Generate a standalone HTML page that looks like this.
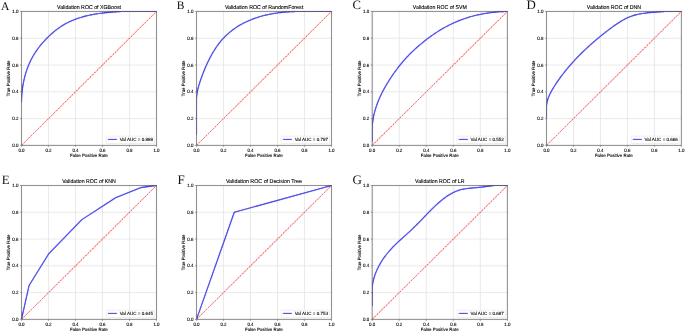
<!DOCTYPE html>
<html><head><meta charset="utf-8"><title>ROC curves</title>
<style>
html,body{margin:0;padding:0;background:#fff;}
body{width:685px;height:332px;overflow:hidden;font-family:"Liberation Sans",sans-serif;}
svg{display:block;will-change:transform;text-rendering:geometricPrecision;}
</style></head><body>
<svg xmlns="http://www.w3.org/2000/svg" width="685" height="332" viewBox="0 0 685 332" font-family="Liberation Sans, sans-serif"><defs><filter id="bl" x="0" y="0" width="685" height="332" filterUnits="userSpaceOnUse"><feConvolveMatrix order="3" kernelMatrix="0.00276 0.04704 0.00276 0.04704 0.80077 0.04704 0.00276 0.04704 0.00276" edgeMode="duplicate" preserveAlpha="true"/></filter><clipPath id="cA"><rect x="21.5" y="10.45" width="136" height="134.95"/></clipPath><clipPath id="cB"><rect x="196.5" y="10.45" width="136" height="134.95"/></clipPath><clipPath id="cC"><rect x="372.2" y="10.45" width="136.2" height="134.95"/></clipPath><clipPath id="cD"><rect x="546.5" y="10.45" width="135.9" height="134.95"/></clipPath><clipPath id="cE"><rect x="21.5" y="184.5" width="136" height="134.9"/></clipPath><clipPath id="cF"><rect x="196.5" y="184.5" width="136" height="134.9"/></clipPath><clipPath id="cG"><rect x="372.2" y="184.5" width="136.2" height="134.9"/></clipPath></defs>
<g filter="url(#bl)"><rect width="685" height="332" fill="#fff"/><g stroke="#e2e2e2" stroke-width="0.8"><line x1="48.5" y1="11.45" x2="48.5" y2="145.4"/><line x1="21.5" y1="118.61" x2="156.5" y2="118.61"/><line x1="75.5" y1="11.45" x2="75.5" y2="145.4"/><line x1="21.5" y1="91.82" x2="156.5" y2="91.82"/><line x1="102.5" y1="11.45" x2="102.5" y2="145.4"/><line x1="21.5" y1="65.03" x2="156.5" y2="65.03"/><line x1="129.5" y1="11.45" x2="129.5" y2="145.4"/><line x1="21.5" y1="38.24" x2="156.5" y2="38.24"/></g>
<g clip-path="url(#cA)">
<line x1="21.5" y1="145.4" x2="156.5" y2="11.45" stroke="#f00000" stroke-width="0.8" stroke-opacity="0.3"/>
<line x1="21.5" y1="145.4" x2="156.5" y2="11.45" stroke="#f00000" stroke-width="1.0" stroke-dasharray="1.6 1.605" stroke-dashoffset="2.93"/>
<polyline points="21.5,102.54 21.5,102.2 21.5,102.2 21.52,101.27 21.55,100.34 21.58,99.4 21.62,98.47 21.67,97.53 21.72,96.6 21.78,95.66 21.85,94.72 21.92,93.78 22.01,92.84 22.1,91.9 22.2,90.95 22.31,90.01 22.42,89.07 22.55,88.13 22.68,87.19 22.82,86.24 22.97,85.3 23.13,84.36 23.29,83.42 23.47,82.48 23.66,81.54 23.85,80.61 24.05,79.67 24.27,78.73 24.49,77.8 24.72,76.87 24.97,75.94 25.22,75.01 25.48,74.09 25.75,73.16 26.04,72.24 26.33,71.33 26.63,70.41 26.95,69.5 27.27,68.59 27.61,67.69 27.95,66.79 28.31,65.89 28.67,65 29.05,64.11 29.44,63.22 29.84,62.34 30.25,61.47 30.67,60.6 31.1,59.74 31.54,58.88 32,58.03 32.46,57.18 32.94,56.34 33.43,55.5 33.92,54.67 34.43,53.85 34.94,53.03 35.47,52.22 36.01,51.42 36.55,50.62 37.1,49.82 37.67,49.04 38.24,48.26 38.82,47.48 39.41,46.71 40.01,45.95 40.62,45.2 41.23,44.45 41.85,43.71 42.48,42.97 43.12,42.24 43.77,41.52 44.42,40.8 45.08,40.09 45.75,39.39 46.42,38.69 47.1,38 47.79,37.32 48.48,36.64 49.18,35.97 49.89,35.3 50.6,34.65 51.32,34 52.05,33.35 52.78,32.72 53.52,32.09 54.27,31.47 55.02,30.86 55.78,30.26 56.55,29.66 57.32,29.08 58.1,28.5 58.89,27.94 59.69,27.38 60.49,26.84 61.3,26.31 62.12,25.78 62.95,25.27 63.78,24.77 64.62,24.29 65.47,23.81 66.33,23.35 67.19,22.89 68.05,22.45 68.93,22.02 69.81,21.61 70.69,21.2 71.58,20.8 72.47,20.42 73.37,20.05 74.28,19.68 75.18,19.33 76.09,18.99 77.01,18.66 77.93,18.34 78.85,18.03 79.77,17.73 80.7,17.44 81.63,17.16 82.56,16.89 83.5,16.62 84.43,16.37 85.37,16.13 86.31,15.89 87.25,15.67 88.19,15.45 89.13,15.24 90.08,15.04 91.02,14.85 91.96,14.66 92.91,14.49 93.85,14.31 94.79,14.15 95.74,14 96.68,13.85 97.62,13.7 98.57,13.57 99.51,13.44 100.45,13.31 101.39,13.19 102.32,13.08 103.26,12.97 104.2,12.87 105.13,12.77 106.06,12.67 106.99,12.58 107.92,12.49 108.85,12.41 109.77,12.33 110.69,12.25 111.61,12.17 112.53,12.1 113.45,12.03 114.36,11.96 115.27,11.9 116.18,11.83 117.09,11.77 118,11.71 118.9,11.65 119.8,11.6 120.71,11.54 121.6,11.49 122.5,11.45 123.4,11.45 124.29,11.45 125.18,11.45 126.07,11.45 126.96,11.45 127.85,11.45 128.73,11.45 129.62,11.45 130.5,11.45 131.38,11.45 132.26,11.45 133.14,11.45 134.02,11.45 134.9,11.45 135.77,11.45 136.65,11.45 137.52,11.45 138.39,11.45 139.27,11.45 140.14,11.45 141,11.45 141.87,11.45 142.74,11.45 143.61,11.45 144.47,11.45 145.34,11.45 146.2,11.45 147.06,11.45 147.92,11.45 148.79,11.45 149.65,11.45 150.5,11.45 151.36,11.45 152.22,11.45 153.08,11.45 153.93,11.45 154.79,11.45 155.65,11.45 156.5,11.45" fill="none" stroke="#0000e0" stroke-width="1.1" stroke-linejoin="round"/>
</g>
<rect x="21.5" y="11.45" width="135" height="133.95" fill="none" stroke="#000" stroke-opacity="0.52" stroke-width="1.0"/>
<g stroke="#7a7a7a" stroke-width="0.9"><line x1="21.5" y1="145.4" x2="21.5" y2="146.8"/><line x1="20.1" y1="145.4" x2="21.5" y2="145.4"/><line x1="48.5" y1="145.4" x2="48.5" y2="146.8"/><line x1="20.1" y1="118.61" x2="21.5" y2="118.61"/><line x1="75.5" y1="145.4" x2="75.5" y2="146.8"/><line x1="20.1" y1="91.82" x2="21.5" y2="91.82"/><line x1="102.5" y1="145.4" x2="102.5" y2="146.8"/><line x1="20.1" y1="65.03" x2="21.5" y2="65.03"/><line x1="129.5" y1="145.4" x2="129.5" y2="146.8"/><line x1="20.1" y1="38.24" x2="21.5" y2="38.24"/><line x1="156.5" y1="145.4" x2="156.5" y2="146.8"/><line x1="20.1" y1="11.45" x2="21.5" y2="11.45"/></g>
<rect x="106.3" y="136.2" width="48.2" height="7.3" rx="0.6" fill="#fff" fill-opacity="0.85" stroke="#dcdcdc" stroke-width="0.5"/>
<line x1="107.9" y1="139.45" x2="116.9" y2="139.45" stroke="#0000e0" stroke-width="1.1"/>
<g stroke="#e2e2e2" stroke-width="0.8"><line x1="223.5" y1="11.45" x2="223.5" y2="145.4"/><line x1="196.5" y1="118.61" x2="331.5" y2="118.61"/><line x1="250.5" y1="11.45" x2="250.5" y2="145.4"/><line x1="196.5" y1="91.82" x2="331.5" y2="91.82"/><line x1="277.5" y1="11.45" x2="277.5" y2="145.4"/><line x1="196.5" y1="65.03" x2="331.5" y2="65.03"/><line x1="304.5" y1="11.45" x2="304.5" y2="145.4"/><line x1="196.5" y1="38.24" x2="331.5" y2="38.24"/></g>
<g clip-path="url(#cB)">
<line x1="196.5" y1="145.4" x2="331.5" y2="11.45" stroke="#f00000" stroke-width="0.8" stroke-opacity="0.3"/>
<line x1="196.5" y1="145.4" x2="331.5" y2="11.45" stroke="#f00000" stroke-width="1.0" stroke-dasharray="1.6 1.605" stroke-dashoffset="2.93"/>
<polyline points="196.5,134.68 196.5,100.66 196.5,100.66 196.5,99.72 196.51,98.79 196.55,97.86 196.61,96.93 196.69,96.01 196.79,95.09 196.91,94.18 197.04,93.27 197.2,92.36 197.37,91.46 197.55,90.56 197.75,89.66 197.96,88.77 198.18,87.88 198.41,86.99 198.66,86.11 198.91,85.22 199.18,84.35 199.45,83.47 199.73,82.59 200.02,81.72 200.31,80.85 200.61,79.97 200.91,79.1 201.21,78.23 201.52,77.36 201.84,76.49 202.16,75.62 202.49,74.75 202.81,73.89 203.15,73.02 203.49,72.15 203.83,71.29 204.18,70.42 204.54,69.56 204.9,68.69 205.27,67.83 205.64,66.97 206.01,66.11 206.4,65.26 206.78,64.4 207.18,63.55 207.58,62.7 207.98,61.84 208.4,61 208.81,60.15 209.24,59.3 209.67,58.46 210.1,57.62 210.55,56.78 210.99,55.95 211.45,55.11 211.91,54.29 212.38,53.46 212.86,52.64 213.34,51.82 213.84,51 214.34,50.19 214.84,49.38 215.36,48.58 215.88,47.78 216.41,46.99 216.95,46.2 217.5,45.42 218.07,44.65 218.64,43.88 219.22,43.13 219.81,42.38 220.41,41.63 221.03,40.9 221.65,40.18 222.28,39.46 222.92,38.75 223.57,38.06 224.23,37.37 224.91,36.69 225.58,36.01 226.27,35.35 226.97,34.7 227.68,34.05 228.39,33.42 229.11,32.79 229.85,32.18 230.59,31.57 231.33,30.98 232.09,30.39 232.85,29.81 233.62,29.25 234.4,28.69 235.19,28.14 235.98,27.61 236.78,27.08 237.58,26.56 238.4,26.06 239.22,25.56 240.04,25.08 240.87,24.6 241.71,24.13 242.55,23.68 243.4,23.23 244.25,22.8 245.11,22.37 245.97,21.95 246.83,21.54 247.71,21.15 248.58,20.76 249.46,20.38 250.34,20.01 251.23,19.65 252.12,19.3 253.01,18.96 253.9,18.63 254.8,18.31 255.7,18 256.61,17.69 257.51,17.4 258.42,17.11 259.33,16.83 260.25,16.56 261.16,16.3 262.08,16.05 262.99,15.81 263.91,15.57 264.83,15.34 265.75,15.12 266.67,14.91 267.6,14.71 268.52,14.51 269.44,14.32 270.37,14.14 271.29,13.96 272.22,13.8 273.14,13.64 274.07,13.48 274.99,13.34 275.91,13.2 276.84,13.07 277.76,12.94 278.68,12.82 279.61,12.7 280.53,12.6 281.45,12.49 282.37,12.4 283.29,12.31 284.21,12.22 285.12,12.14 286.04,12.06 286.95,11.99 287.86,11.93 288.78,11.87 289.69,11.81 290.59,11.76 291.5,11.71 292.41,11.67 293.31,11.63 294.21,11.6 295.11,11.56 296.01,11.53 296.91,11.51 297.8,11.49 298.7,11.47 299.59,11.45 300.48,11.45 301.37,11.45 302.25,11.45 303.14,11.45 304.02,11.45 304.9,11.45 305.78,11.45 306.66,11.45 307.53,11.45 308.41,11.45 309.28,11.45 310.15,11.45 311.02,11.45 311.88,11.45 312.75,11.45 313.61,11.46 314.47,11.47 315.33,11.48 316.19,11.48 317.05,11.49 317.91,11.5 318.76,11.51 319.62,11.51 320.47,11.52 321.32,11.52 322.17,11.53 323.02,11.53 323.87,11.53 324.72,11.53 325.57,11.53 326.42,11.52 327.27,11.52 328.11,11.51 328.96,11.5 329.81,11.48 330.65,11.47 331.5,11.45" fill="none" stroke="#0000e0" stroke-width="1.1" stroke-linejoin="round"/>
</g>
<rect x="196.5" y="11.45" width="135" height="133.95" fill="none" stroke="#000" stroke-opacity="0.52" stroke-width="1.0"/>
<g stroke="#7a7a7a" stroke-width="0.9"><line x1="196.5" y1="145.4" x2="196.5" y2="146.8"/><line x1="195.1" y1="145.4" x2="196.5" y2="145.4"/><line x1="223.5" y1="145.4" x2="223.5" y2="146.8"/><line x1="195.1" y1="118.61" x2="196.5" y2="118.61"/><line x1="250.5" y1="145.4" x2="250.5" y2="146.8"/><line x1="195.1" y1="91.82" x2="196.5" y2="91.82"/><line x1="277.5" y1="145.4" x2="277.5" y2="146.8"/><line x1="195.1" y1="65.03" x2="196.5" y2="65.03"/><line x1="304.5" y1="145.4" x2="304.5" y2="146.8"/><line x1="195.1" y1="38.24" x2="196.5" y2="38.24"/><line x1="331.5" y1="145.4" x2="331.5" y2="146.8"/><line x1="195.1" y1="11.45" x2="196.5" y2="11.45"/></g>
<rect x="281.3" y="136.2" width="48.2" height="7.3" rx="0.6" fill="#fff" fill-opacity="0.85" stroke="#dcdcdc" stroke-width="0.5"/>
<line x1="282.9" y1="139.45" x2="291.9" y2="139.45" stroke="#0000e0" stroke-width="1.1"/>
<g stroke="#e2e2e2" stroke-width="0.8"><line x1="399.24" y1="11.45" x2="399.24" y2="145.4"/><line x1="372.2" y1="118.61" x2="507.4" y2="118.61"/><line x1="426.28" y1="11.45" x2="426.28" y2="145.4"/><line x1="372.2" y1="91.82" x2="507.4" y2="91.82"/><line x1="453.32" y1="11.45" x2="453.32" y2="145.4"/><line x1="372.2" y1="65.03" x2="507.4" y2="65.03"/><line x1="480.36" y1="11.45" x2="480.36" y2="145.4"/><line x1="372.2" y1="38.24" x2="507.4" y2="38.24"/></g>
<g clip-path="url(#cC)">
<line x1="372.2" y1="145.4" x2="507.4" y2="11.45" stroke="#f00000" stroke-width="0.8" stroke-opacity="0.3"/>
<line x1="372.2" y1="145.4" x2="507.4" y2="11.45" stroke="#f00000" stroke-width="1.0" stroke-dasharray="1.6 1.605" stroke-dashoffset="2.93"/>
<polyline points="372.2,141.38 372.2,130 372.2,130 372.21,129 372.23,128.01 372.27,127.02 372.33,126.03 372.4,125.04 372.48,124.05 372.58,123.06 372.69,122.07 372.82,121.09 372.96,120.1 373.11,119.12 373.28,118.14 373.46,117.17 373.65,116.19 373.85,115.22 374.07,114.25 374.3,113.28 374.54,112.32 374.79,111.36 375.06,110.4 375.33,109.44 375.62,108.49 375.92,107.54 376.23,106.6 376.55,105.66 376.88,104.72 377.21,103.79 377.56,102.86 377.92,101.93 378.29,101.01 378.67,100.09 379.05,99.17 379.45,98.26 379.85,97.35 380.26,96.45 380.68,95.55 381.11,94.66 381.54,93.77 381.98,92.88 382.43,92 382.89,91.12 383.35,90.24 383.82,89.37 384.29,88.5 384.78,87.64 385.26,86.78 385.76,85.92 386.26,85.07 386.76,84.22 387.27,83.38 387.79,82.54 388.31,81.7 388.83,80.87 389.36,80.04 389.9,79.21 390.43,78.38 390.98,77.56 391.52,76.75 392.07,75.93 392.62,75.12 393.18,74.31 393.74,73.5 394.31,72.7 394.88,71.9 395.45,71.11 396.03,70.32 396.61,69.53 397.2,68.74 397.79,67.96 398.38,67.18 398.98,66.41 399.59,65.64 400.2,64.87 400.82,64.11 401.44,63.36 402.06,62.6 402.69,61.86 403.33,61.11 403.97,60.37 404.62,59.64 405.27,58.91 405.93,58.18 406.59,57.46 407.26,56.75 407.93,56.04 408.61,55.33 409.29,54.63 409.98,53.94 410.67,53.25 411.37,52.56 412.07,51.88 412.77,51.21 413.48,50.53 414.2,49.87 414.92,49.2 415.64,48.55 416.37,47.89 417.1,47.24 417.83,46.6 418.57,45.96 419.31,45.32 420.05,44.69 420.8,44.06 421.56,43.44 422.31,42.82 423.07,42.2 423.83,41.59 424.6,40.98 425.37,40.38 426.14,39.78 426.91,39.18 427.69,38.59 428.47,38.01 429.26,37.43 430.05,36.85 430.85,36.28 431.64,35.71 432.44,35.15 433.25,34.59 434.06,34.04 434.87,33.49 435.69,32.95 436.51,32.41 437.33,31.88 438.16,31.35 438.99,30.83 439.82,30.32 440.66,29.81 441.51,29.31 442.35,28.81 443.2,28.32 444.06,27.83 444.92,27.36 445.78,26.88 446.65,26.42 447.51,25.96 448.39,25.51 449.26,25.06 450.15,24.62 451.03,24.19 451.92,23.76 452.81,23.35 453.7,22.93 454.6,22.53 455.5,22.13 456.41,21.74 457.32,21.36 458.23,20.99 459.14,20.62 460.06,20.26 460.98,19.91 461.91,19.56 462.83,19.23 463.76,18.9 464.7,18.58 465.63,18.27 466.57,17.96 467.51,17.66 468.45,17.37 469.4,17.09 470.35,16.81 471.3,16.55 472.25,16.28 473.2,16.03 474.16,15.79 475.12,15.55 476.08,15.32 477.04,15.09 478,14.87 478.97,14.66 479.93,14.46 480.9,14.27 481.87,14.08 482.84,13.9 483.81,13.72 484.79,13.55 485.76,13.39 486.74,13.24 487.71,13.09 488.69,12.95 489.67,12.81 490.65,12.68 491.63,12.56 492.61,12.45 493.59,12.34 494.57,12.23 495.56,12.14 496.54,12.05 497.53,11.96 498.51,11.89 499.5,11.81 500.48,11.75 501.47,11.69 502.46,11.63 503.45,11.58 504.43,11.54 505.42,11.5 506.41,11.47 507.4,11.45" fill="none" stroke="#0000e0" stroke-width="1.1" stroke-linejoin="round"/>
</g>
<rect x="372.2" y="11.45" width="135.2" height="133.95" fill="none" stroke="#000" stroke-opacity="0.52" stroke-width="1.0"/>
<g stroke="#7a7a7a" stroke-width="0.9"><line x1="372.2" y1="145.4" x2="372.2" y2="146.8"/><line x1="370.8" y1="145.4" x2="372.2" y2="145.4"/><line x1="399.24" y1="145.4" x2="399.24" y2="146.8"/><line x1="370.8" y1="118.61" x2="372.2" y2="118.61"/><line x1="426.28" y1="145.4" x2="426.28" y2="146.8"/><line x1="370.8" y1="91.82" x2="372.2" y2="91.82"/><line x1="453.32" y1="145.4" x2="453.32" y2="146.8"/><line x1="370.8" y1="65.03" x2="372.2" y2="65.03"/><line x1="480.36" y1="145.4" x2="480.36" y2="146.8"/><line x1="370.8" y1="38.24" x2="372.2" y2="38.24"/><line x1="507.4" y1="145.4" x2="507.4" y2="146.8"/><line x1="370.8" y1="11.45" x2="372.2" y2="11.45"/></g>
<rect x="457.2" y="136.2" width="48.2" height="7.3" rx="0.6" fill="#fff" fill-opacity="0.85" stroke="#dcdcdc" stroke-width="0.5"/>
<line x1="458.8" y1="139.45" x2="467.8" y2="139.45" stroke="#0000e0" stroke-width="1.1"/>
<g stroke="#e2e2e2" stroke-width="0.8"><line x1="573.48" y1="11.45" x2="573.48" y2="145.4"/><line x1="546.5" y1="118.61" x2="681.4" y2="118.61"/><line x1="600.46" y1="11.45" x2="600.46" y2="145.4"/><line x1="546.5" y1="91.82" x2="681.4" y2="91.82"/><line x1="627.44" y1="11.45" x2="627.44" y2="145.4"/><line x1="546.5" y1="65.03" x2="681.4" y2="65.03"/><line x1="654.42" y1="11.45" x2="654.42" y2="145.4"/><line x1="546.5" y1="38.24" x2="681.4" y2="38.24"/></g>
<g clip-path="url(#cD)">
<line x1="546.5" y1="145.4" x2="681.4" y2="11.45" stroke="#f00000" stroke-width="0.8" stroke-opacity="0.3"/>
<line x1="546.5" y1="145.4" x2="681.4" y2="11.45" stroke="#f00000" stroke-width="1.0" stroke-dasharray="1.6 1.605" stroke-dashoffset="2.93"/>
<polyline points="546.5,118.61 546.5,109.3 546.5,109.3 546.5,108.34 546.5,107.39 546.5,106.45 546.55,105.51 546.64,104.58 546.78,103.66 546.94,102.74 547.13,101.84 547.35,100.94 547.59,100.05 547.86,99.16 548.16,98.29 548.48,97.42 548.82,96.56 549.17,95.71 549.55,94.87 549.95,94.03 550.35,93.2 550.78,92.38 551.22,91.56 551.67,90.75 552.13,89.94 552.59,89.15 553.07,88.35 553.56,87.56 554.05,86.78 554.54,86 555.04,85.22 555.54,84.45 556.05,83.67 556.56,82.91 557.07,82.14 557.59,81.39 558.11,80.63 558.64,79.88 559.17,79.13 559.7,78.38 560.24,77.64 560.78,76.9 561.32,76.17 561.87,75.44 562.42,74.71 562.98,73.99 563.53,73.27 564.1,72.55 564.66,71.83 565.23,71.12 565.8,70.42 566.37,69.71 566.95,69.01 567.52,68.32 568.11,67.62 568.69,66.93 569.28,66.25 569.87,65.56 570.46,64.88 571.06,64.2 571.66,63.53 572.26,62.86 572.86,62.19 573.46,61.52 574.07,60.86 574.68,60.2 575.3,59.54 575.91,58.89 576.53,58.24 577.15,57.59 577.77,56.95 578.39,56.3 579.02,55.66 579.65,55.03 580.28,54.39 580.91,53.76 581.55,53.13 582.19,52.51 582.83,51.88 583.47,51.26 584.11,50.64 584.76,50.03 585.41,49.41 586.06,48.8 586.71,48.2 587.36,47.59 588.02,46.99 588.68,46.38 589.34,45.78 590,45.19 590.67,44.59 591.33,44 592,43.41 592.67,42.82 593.35,42.24 594.02,41.65 594.7,41.07 595.38,40.49 596.06,39.91 596.74,39.34 597.43,38.76 598.11,38.19 598.8,37.62 599.49,37.05 600.18,36.49 600.88,35.92 601.58,35.36 602.28,34.8 602.98,34.24 603.68,33.68 604.39,33.12 605.09,32.57 605.8,32.01 606.52,31.46 607.23,30.91 607.95,30.36 608.66,29.82 609.39,29.27 610.11,28.73 610.84,28.19 611.57,27.66 612.3,27.12 613.04,26.59 613.78,26.07 614.52,25.54 615.27,25.03 616.02,24.51 616.78,24 617.54,23.49 618.3,22.99 619.07,22.5 619.84,22.01 620.62,21.52 621.4,21.05 622.18,20.58 622.98,20.12 623.77,19.67 624.58,19.24 625.39,18.81 626.21,18.4 627.03,18 627.86,17.61 628.7,17.24 629.54,16.89 630.39,16.55 631.25,16.22 632.11,15.92 632.98,15.63 633.85,15.36 634.74,15.1 635.62,14.86 636.51,14.64 637.4,14.43 638.3,14.24 639.2,14.06 640.1,13.89 641.01,13.73 641.91,13.58 642.82,13.45 643.73,13.32 644.64,13.2 645.55,13.09 646.46,12.99 647.37,12.9 648.28,12.81 649.19,12.72 650.1,12.64 651.01,12.57 651.91,12.49 652.82,12.42 653.72,12.35 654.63,12.28 655.53,12.21 656.43,12.14 657.32,12.07 658.22,12 659.12,11.93 660.01,11.86 660.91,11.79 661.8,11.72 662.7,11.66 663.59,11.6 664.48,11.54 665.38,11.49 666.27,11.45 667.16,11.45 668.05,11.45 668.94,11.45 669.83,11.45 670.73,11.45 671.62,11.45 672.51,11.45 673.4,11.45 674.29,11.45 675.18,11.45 676.07,11.45 676.96,11.45 677.85,11.45 678.74,11.45 679.63,11.45 680.51,11.45 681.4,11.45" fill="none" stroke="#0000e0" stroke-width="1.1" stroke-linejoin="round"/>
</g>
<rect x="546.5" y="11.45" width="134.9" height="133.95" fill="none" stroke="#000" stroke-opacity="0.52" stroke-width="1.0"/>
<g stroke="#7a7a7a" stroke-width="0.9"><line x1="546.5" y1="145.4" x2="546.5" y2="146.8"/><line x1="545.1" y1="145.4" x2="546.5" y2="145.4"/><line x1="573.48" y1="145.4" x2="573.48" y2="146.8"/><line x1="545.1" y1="118.61" x2="546.5" y2="118.61"/><line x1="600.46" y1="145.4" x2="600.46" y2="146.8"/><line x1="545.1" y1="91.82" x2="546.5" y2="91.82"/><line x1="627.44" y1="145.4" x2="627.44" y2="146.8"/><line x1="545.1" y1="65.03" x2="546.5" y2="65.03"/><line x1="654.42" y1="145.4" x2="654.42" y2="146.8"/><line x1="545.1" y1="38.24" x2="546.5" y2="38.24"/><line x1="681.4" y1="145.4" x2="681.4" y2="146.8"/><line x1="545.1" y1="11.45" x2="546.5" y2="11.45"/></g>
<rect x="631.2" y="136.2" width="48.2" height="7.3" rx="0.6" fill="#fff" fill-opacity="0.85" stroke="#dcdcdc" stroke-width="0.5"/>
<line x1="632.8" y1="139.45" x2="641.8" y2="139.45" stroke="#0000e0" stroke-width="1.1"/>
<g stroke="#e2e2e2" stroke-width="0.8"><line x1="48.5" y1="185.5" x2="48.5" y2="319.4"/><line x1="21.5" y1="292.62" x2="156.5" y2="292.62"/><line x1="75.5" y1="185.5" x2="75.5" y2="319.4"/><line x1="21.5" y1="265.84" x2="156.5" y2="265.84"/><line x1="102.5" y1="185.5" x2="102.5" y2="319.4"/><line x1="21.5" y1="239.06" x2="156.5" y2="239.06"/><line x1="129.5" y1="185.5" x2="129.5" y2="319.4"/><line x1="21.5" y1="212.28" x2="156.5" y2="212.28"/></g>
<g clip-path="url(#cE)">
<line x1="21.5" y1="319.4" x2="156.5" y2="185.5" stroke="#f00000" stroke-width="0.8" stroke-opacity="0.3"/>
<line x1="21.5" y1="319.4" x2="156.5" y2="185.5" stroke="#f00000" stroke-width="1.0" stroke-dasharray="1.6 1.605" stroke-dashoffset="2.93"/>
<polyline points="21.5,319.4 29.06,285.52 48.91,253.52 81.84,219.64 115.59,197.82 140.44,187.64 156.5,185.5" fill="none" stroke="#0000e0" stroke-width="1.1" stroke-linejoin="round"/>
</g>
<rect x="21.5" y="185.5" width="135" height="133.9" fill="none" stroke="#000" stroke-opacity="0.52" stroke-width="1.0"/>
<g stroke="#7a7a7a" stroke-width="0.9"><line x1="21.5" y1="319.4" x2="21.5" y2="320.8"/><line x1="20.1" y1="319.4" x2="21.5" y2="319.4"/><line x1="48.5" y1="319.4" x2="48.5" y2="320.8"/><line x1="20.1" y1="292.62" x2="21.5" y2="292.62"/><line x1="75.5" y1="319.4" x2="75.5" y2="320.8"/><line x1="20.1" y1="265.84" x2="21.5" y2="265.84"/><line x1="102.5" y1="319.4" x2="102.5" y2="320.8"/><line x1="20.1" y1="239.06" x2="21.5" y2="239.06"/><line x1="129.5" y1="319.4" x2="129.5" y2="320.8"/><line x1="20.1" y1="212.28" x2="21.5" y2="212.28"/><line x1="156.5" y1="319.4" x2="156.5" y2="320.8"/><line x1="20.1" y1="185.5" x2="21.5" y2="185.5"/></g>
<rect x="106.3" y="310.2" width="48.2" height="7.3" rx="0.6" fill="#fff" fill-opacity="0.85" stroke="#dcdcdc" stroke-width="0.5"/>
<line x1="107.9" y1="313.45" x2="116.9" y2="313.45" stroke="#0000e0" stroke-width="1.1"/>
<g stroke="#e2e2e2" stroke-width="0.8"><line x1="223.5" y1="185.5" x2="223.5" y2="319.4"/><line x1="196.5" y1="292.62" x2="331.5" y2="292.62"/><line x1="250.5" y1="185.5" x2="250.5" y2="319.4"/><line x1="196.5" y1="265.84" x2="331.5" y2="265.84"/><line x1="277.5" y1="185.5" x2="277.5" y2="319.4"/><line x1="196.5" y1="239.06" x2="331.5" y2="239.06"/><line x1="304.5" y1="185.5" x2="304.5" y2="319.4"/><line x1="196.5" y1="212.28" x2="331.5" y2="212.28"/></g>
<g clip-path="url(#cF)">
<line x1="196.5" y1="319.4" x2="331.5" y2="185.5" stroke="#f00000" stroke-width="0.8" stroke-opacity="0.3"/>
<line x1="196.5" y1="319.4" x2="331.5" y2="185.5" stroke="#f00000" stroke-width="1.0" stroke-dasharray="1.6 1.605" stroke-dashoffset="2.93"/>
<polyline points="196.5,319.4 234.3,212.28 331.5,185.5" fill="none" stroke="#0000e0" stroke-width="1.1" stroke-linejoin="round"/>
</g>
<rect x="196.5" y="185.5" width="135" height="133.9" fill="none" stroke="#000" stroke-opacity="0.52" stroke-width="1.0"/>
<g stroke="#7a7a7a" stroke-width="0.9"><line x1="196.5" y1="319.4" x2="196.5" y2="320.8"/><line x1="195.1" y1="319.4" x2="196.5" y2="319.4"/><line x1="223.5" y1="319.4" x2="223.5" y2="320.8"/><line x1="195.1" y1="292.62" x2="196.5" y2="292.62"/><line x1="250.5" y1="319.4" x2="250.5" y2="320.8"/><line x1="195.1" y1="265.84" x2="196.5" y2="265.84"/><line x1="277.5" y1="319.4" x2="277.5" y2="320.8"/><line x1="195.1" y1="239.06" x2="196.5" y2="239.06"/><line x1="304.5" y1="319.4" x2="304.5" y2="320.8"/><line x1="195.1" y1="212.28" x2="196.5" y2="212.28"/><line x1="331.5" y1="319.4" x2="331.5" y2="320.8"/><line x1="195.1" y1="185.5" x2="196.5" y2="185.5"/></g>
<rect x="281.3" y="310.2" width="48.2" height="7.3" rx="0.6" fill="#fff" fill-opacity="0.85" stroke="#dcdcdc" stroke-width="0.5"/>
<line x1="282.9" y1="313.45" x2="291.9" y2="313.45" stroke="#0000e0" stroke-width="1.1"/>
<g stroke="#e2e2e2" stroke-width="0.8"><line x1="399.24" y1="185.5" x2="399.24" y2="319.4"/><line x1="372.2" y1="292.62" x2="507.4" y2="292.62"/><line x1="426.28" y1="185.5" x2="426.28" y2="319.4"/><line x1="372.2" y1="265.84" x2="507.4" y2="265.84"/><line x1="453.32" y1="185.5" x2="453.32" y2="319.4"/><line x1="372.2" y1="239.06" x2="507.4" y2="239.06"/><line x1="480.36" y1="185.5" x2="480.36" y2="319.4"/><line x1="372.2" y1="212.28" x2="507.4" y2="212.28"/></g>
<g clip-path="url(#cG)">
<line x1="372.2" y1="319.4" x2="507.4" y2="185.5" stroke="#f00000" stroke-width="0.8" stroke-opacity="0.3"/>
<line x1="372.2" y1="319.4" x2="507.4" y2="185.5" stroke="#f00000" stroke-width="1.0" stroke-dasharray="1.6 1.605" stroke-dashoffset="2.93"/>
<polyline points="372.2,306.01 372.2,295.97 372.2,295.97 372.2,294.98 372.2,294 372.2,293.02 372.2,292.03 372.2,291.05 372.2,290.07 372.2,289.09 372.2,288.12 372.24,287.15 372.35,286.18 372.47,285.21 372.61,284.24 372.77,283.28 372.95,282.32 373.15,281.37 373.36,280.42 373.6,279.47 373.84,278.53 374.11,277.6 374.39,276.66 374.69,275.74 375,274.82 375.33,273.9 375.67,272.99 376.03,272.08 376.4,271.18 376.79,270.29 377.19,269.4 377.61,268.52 378.03,267.64 378.47,266.77 378.93,265.91 379.39,265.05 379.87,264.2 380.36,263.36 380.86,262.52 381.37,261.69 381.89,260.86 382.43,260.05 382.97,259.24 383.52,258.43 384.08,257.64 384.65,256.85 385.24,256.06 385.82,255.29 386.42,254.52 387.03,253.76 387.64,253 388.26,252.25 388.89,251.51 389.52,250.78 390.17,250.05 390.81,249.33 391.47,248.61 392.13,247.9 392.79,247.2 393.47,246.51 394.14,245.82 394.82,245.14 395.51,244.46 396.2,243.79 396.89,243.12 397.58,242.46 398.28,241.81 398.98,241.16 399.69,240.51 400.39,239.87 401.09,239.23 401.8,238.59 402.5,237.96 403.21,237.33 403.91,236.7 404.61,236.08 405.31,235.45 406.01,234.83 406.71,234.2 407.4,233.58 408.09,232.96 408.78,232.33 409.46,231.7 410.14,231.07 410.81,230.44 411.48,229.81 412.15,229.17 412.81,228.53 413.48,227.89 414.13,227.25 414.79,226.6 415.44,225.95 416.09,225.3 416.74,224.65 417.39,223.99 418.04,223.33 418.69,222.67 419.33,222.01 419.98,221.35 420.62,220.68 421.27,220.02 421.91,219.35 422.56,218.68 423.21,218.01 423.86,217.34 424.5,216.66 425.16,215.99 425.81,215.31 426.46,214.64 427.12,213.96 427.78,213.28 428.44,212.61 429.1,211.93 429.77,211.25 430.44,210.58 431.12,209.9 431.79,209.23 432.47,208.55 433.16,207.88 433.85,207.21 434.54,206.54 435.24,205.88 435.95,205.21 436.66,204.56 437.37,203.9 438.1,203.25 438.82,202.61 439.56,201.97 440.3,201.33 441.05,200.71 441.8,200.09 442.57,199.48 443.33,198.88 444.11,198.28 444.9,197.7 445.69,197.12 446.49,196.56 447.3,196.01 448.12,195.47 448.94,194.94 449.78,194.43 450.62,193.94 451.47,193.46 452.34,193.01 453.21,192.56 454.09,192.14 454.98,191.74 455.88,191.36 456.79,191.01 457.71,190.68 458.63,190.37 459.57,190.08 460.51,189.82 461.46,189.58 462.42,189.36 463.38,189.16 464.34,188.98 465.31,188.81 466.28,188.66 467.25,188.52 468.22,188.4 469.2,188.28 470.17,188.17 471.15,188.08 472.12,187.99 473.1,187.9 474.07,187.82 475.04,187.74 476.01,187.66 476.97,187.58 477.94,187.5 478.9,187.41 479.86,187.32 480.81,187.22 481.77,187.12 482.72,187.01 483.66,186.89 484.61,186.77 485.56,186.64 486.5,186.51 487.45,186.38 488.39,186.25 489.34,186.12 490.28,186 491.23,185.87 492.17,185.76 493.12,185.64 494.07,185.54 495.02,185.5 495.97,185.5 496.92,185.5 497.87,185.5 498.82,185.5 499.77,185.5 500.73,185.5 501.68,185.5 502.64,185.5 503.59,185.5 504.54,185.5 505.5,185.5 506.45,185.5 507.4,185.5" fill="none" stroke="#0000e0" stroke-width="1.1" stroke-linejoin="round"/>
</g>
<rect x="372.2" y="185.5" width="135.2" height="133.9" fill="none" stroke="#000" stroke-opacity="0.52" stroke-width="1.0"/>
<g stroke="#7a7a7a" stroke-width="0.9"><line x1="372.2" y1="319.4" x2="372.2" y2="320.8"/><line x1="370.8" y1="319.4" x2="372.2" y2="319.4"/><line x1="399.24" y1="319.4" x2="399.24" y2="320.8"/><line x1="370.8" y1="292.62" x2="372.2" y2="292.62"/><line x1="426.28" y1="319.4" x2="426.28" y2="320.8"/><line x1="370.8" y1="265.84" x2="372.2" y2="265.84"/><line x1="453.32" y1="319.4" x2="453.32" y2="320.8"/><line x1="370.8" y1="239.06" x2="372.2" y2="239.06"/><line x1="480.36" y1="319.4" x2="480.36" y2="320.8"/><line x1="370.8" y1="212.28" x2="372.2" y2="212.28"/><line x1="507.4" y1="319.4" x2="507.4" y2="320.8"/><line x1="370.8" y1="185.5" x2="372.2" y2="185.5"/></g>
<rect x="457.2" y="310.2" width="48.2" height="7.3" rx="0.6" fill="#fff" fill-opacity="0.85" stroke="#dcdcdc" stroke-width="0.5"/>
<line x1="458.8" y1="313.45" x2="467.8" y2="313.45" stroke="#0000e0" stroke-width="1.1"/></g>
<g fill="#000" stroke="#000" stroke-width="0.1"><g font-size="4.75"><text x="21.5" y="151.7" text-anchor="middle" textLength="6.2" lengthAdjust="spacingAndGlyphs">0.0</text><text x="18.5" y="147" text-anchor="end" textLength="6.2" lengthAdjust="spacingAndGlyphs">0.0</text><text x="48.5" y="151.7" text-anchor="middle" textLength="6.2" lengthAdjust="spacingAndGlyphs">0.2</text><text x="18.5" y="120.21" text-anchor="end" textLength="6.2" lengthAdjust="spacingAndGlyphs">0.2</text><text x="75.5" y="151.7" text-anchor="middle" textLength="6.2" lengthAdjust="spacingAndGlyphs">0.4</text><text x="18.5" y="93.42" text-anchor="end" textLength="6.2" lengthAdjust="spacingAndGlyphs">0.4</text><text x="102.5" y="151.7" text-anchor="middle" textLength="6.2" lengthAdjust="spacingAndGlyphs">0.6</text><text x="18.5" y="66.63" text-anchor="end" textLength="6.2" lengthAdjust="spacingAndGlyphs">0.6</text><text x="129.5" y="151.7" text-anchor="middle" textLength="6.2" lengthAdjust="spacingAndGlyphs">0.8</text><text x="18.5" y="39.84" text-anchor="end" textLength="6.2" lengthAdjust="spacingAndGlyphs">0.8</text><text x="156.5" y="151.7" text-anchor="middle" textLength="6.2" lengthAdjust="spacingAndGlyphs">1.0</text><text x="18.5" y="13.05" text-anchor="end" textLength="6.2" lengthAdjust="spacingAndGlyphs">1.0</text></g>
<text x="89" y="8.9" text-anchor="middle" font-size="5.6" textLength="63.9" lengthAdjust="spacingAndGlyphs">Validation ROC of XGBoost</text>
<text x="88.9" y="156.9" text-anchor="middle" font-size="4.65" textLength="37.8" lengthAdjust="spacingAndGlyphs">False Positive Rate</text>
<text transform="translate(9.8,78.42) rotate(-90)" text-anchor="middle" font-size="4.65" textLength="35.8" lengthAdjust="spacingAndGlyphs">True Positive Rate</text>
<text x="119.7" y="141" font-size="4.7" textLength="33.3" lengthAdjust="spacingAndGlyphs">Val AUC = 0.889</text>
<g font-size="4.75"><text x="196.5" y="151.7" text-anchor="middle" textLength="6.2" lengthAdjust="spacingAndGlyphs">0.0</text><text x="193.5" y="147" text-anchor="end" textLength="6.2" lengthAdjust="spacingAndGlyphs">0.0</text><text x="223.5" y="151.7" text-anchor="middle" textLength="6.2" lengthAdjust="spacingAndGlyphs">0.2</text><text x="193.5" y="120.21" text-anchor="end" textLength="6.2" lengthAdjust="spacingAndGlyphs">0.2</text><text x="250.5" y="151.7" text-anchor="middle" textLength="6.2" lengthAdjust="spacingAndGlyphs">0.4</text><text x="193.5" y="93.42" text-anchor="end" textLength="6.2" lengthAdjust="spacingAndGlyphs">0.4</text><text x="277.5" y="151.7" text-anchor="middle" textLength="6.2" lengthAdjust="spacingAndGlyphs">0.6</text><text x="193.5" y="66.63" text-anchor="end" textLength="6.2" lengthAdjust="spacingAndGlyphs">0.6</text><text x="304.5" y="151.7" text-anchor="middle" textLength="6.2" lengthAdjust="spacingAndGlyphs">0.8</text><text x="193.5" y="39.84" text-anchor="end" textLength="6.2" lengthAdjust="spacingAndGlyphs">0.8</text><text x="331.5" y="151.7" text-anchor="middle" textLength="6.2" lengthAdjust="spacingAndGlyphs">1.0</text><text x="193.5" y="13.05" text-anchor="end" textLength="6.2" lengthAdjust="spacingAndGlyphs">1.0</text></g>
<text x="264" y="8.9" text-anchor="middle" font-size="5.6" textLength="78.24" lengthAdjust="spacingAndGlyphs">Validation ROC of RandomForest</text>
<text x="263.9" y="156.9" text-anchor="middle" font-size="4.65" textLength="37.8" lengthAdjust="spacingAndGlyphs">False Positive Rate</text>
<text transform="translate(184.8,78.42) rotate(-90)" text-anchor="middle" font-size="4.65" textLength="35.8" lengthAdjust="spacingAndGlyphs">True Positive Rate</text>
<text x="294.7" y="141" font-size="4.7" textLength="33.3" lengthAdjust="spacingAndGlyphs">Val AUC = 0.797</text>
<g font-size="4.75"><text x="372.2" y="151.7" text-anchor="middle" textLength="6.2" lengthAdjust="spacingAndGlyphs">0.0</text><text x="369.2" y="147" text-anchor="end" textLength="6.2" lengthAdjust="spacingAndGlyphs">0.0</text><text x="399.24" y="151.7" text-anchor="middle" textLength="6.2" lengthAdjust="spacingAndGlyphs">0.2</text><text x="369.2" y="120.21" text-anchor="end" textLength="6.2" lengthAdjust="spacingAndGlyphs">0.2</text><text x="426.28" y="151.7" text-anchor="middle" textLength="6.2" lengthAdjust="spacingAndGlyphs">0.4</text><text x="369.2" y="93.42" text-anchor="end" textLength="6.2" lengthAdjust="spacingAndGlyphs">0.4</text><text x="453.32" y="151.7" text-anchor="middle" textLength="6.2" lengthAdjust="spacingAndGlyphs">0.6</text><text x="369.2" y="66.63" text-anchor="end" textLength="6.2" lengthAdjust="spacingAndGlyphs">0.6</text><text x="480.36" y="151.7" text-anchor="middle" textLength="6.2" lengthAdjust="spacingAndGlyphs">0.8</text><text x="369.2" y="39.84" text-anchor="end" textLength="6.2" lengthAdjust="spacingAndGlyphs">0.8</text><text x="507.4" y="151.7" text-anchor="middle" textLength="6.2" lengthAdjust="spacingAndGlyphs">1.0</text><text x="369.2" y="13.05" text-anchor="end" textLength="6.2" lengthAdjust="spacingAndGlyphs">1.0</text></g>
<text x="439.8" y="8.9" text-anchor="middle" font-size="5.6" textLength="53.88" lengthAdjust="spacingAndGlyphs">Validation ROC of SVM</text>
<text x="439.7" y="156.9" text-anchor="middle" font-size="4.65" textLength="37.8" lengthAdjust="spacingAndGlyphs">False Positive Rate</text>
<text transform="translate(360.5,78.42) rotate(-90)" text-anchor="middle" font-size="4.65" textLength="35.8" lengthAdjust="spacingAndGlyphs">True Positive Rate</text>
<text x="470.6" y="141" font-size="4.7" textLength="33.3" lengthAdjust="spacingAndGlyphs">Val AUC = 0.552</text>
<g font-size="4.75"><text x="546.5" y="151.7" text-anchor="middle" textLength="6.2" lengthAdjust="spacingAndGlyphs">0.0</text><text x="543.5" y="147" text-anchor="end" textLength="6.2" lengthAdjust="spacingAndGlyphs">0.0</text><text x="573.48" y="151.7" text-anchor="middle" textLength="6.2" lengthAdjust="spacingAndGlyphs">0.2</text><text x="543.5" y="120.21" text-anchor="end" textLength="6.2" lengthAdjust="spacingAndGlyphs">0.2</text><text x="600.46" y="151.7" text-anchor="middle" textLength="6.2" lengthAdjust="spacingAndGlyphs">0.4</text><text x="543.5" y="93.42" text-anchor="end" textLength="6.2" lengthAdjust="spacingAndGlyphs">0.4</text><text x="627.44" y="151.7" text-anchor="middle" textLength="6.2" lengthAdjust="spacingAndGlyphs">0.6</text><text x="543.5" y="66.63" text-anchor="end" textLength="6.2" lengthAdjust="spacingAndGlyphs">0.6</text><text x="654.42" y="151.7" text-anchor="middle" textLength="6.2" lengthAdjust="spacingAndGlyphs">0.8</text><text x="543.5" y="39.84" text-anchor="end" textLength="6.2" lengthAdjust="spacingAndGlyphs">0.8</text><text x="681.4" y="151.7" text-anchor="middle" textLength="6.2" lengthAdjust="spacingAndGlyphs">1.0</text><text x="543.5" y="13.05" text-anchor="end" textLength="6.2" lengthAdjust="spacingAndGlyphs">1.0</text></g>
<text x="613.95" y="8.9" text-anchor="middle" font-size="5.6" textLength="54.28" lengthAdjust="spacingAndGlyphs">Validation ROC of DNN</text>
<text x="613.85" y="156.9" text-anchor="middle" font-size="4.65" textLength="37.8" lengthAdjust="spacingAndGlyphs">False Positive Rate</text>
<text transform="translate(534.8,78.42) rotate(-90)" text-anchor="middle" font-size="4.65" textLength="35.8" lengthAdjust="spacingAndGlyphs">True Positive Rate</text>
<text x="644.6" y="141" font-size="4.7" textLength="33.3" lengthAdjust="spacingAndGlyphs">Val AUC = 0.666</text>
<g font-size="4.75"><text x="21.5" y="325.7" text-anchor="middle" textLength="6.2" lengthAdjust="spacingAndGlyphs">0.0</text><text x="18.5" y="321" text-anchor="end" textLength="6.2" lengthAdjust="spacingAndGlyphs">0.0</text><text x="48.5" y="325.7" text-anchor="middle" textLength="6.2" lengthAdjust="spacingAndGlyphs">0.2</text><text x="18.5" y="294.22" text-anchor="end" textLength="6.2" lengthAdjust="spacingAndGlyphs">0.2</text><text x="75.5" y="325.7" text-anchor="middle" textLength="6.2" lengthAdjust="spacingAndGlyphs">0.4</text><text x="18.5" y="267.44" text-anchor="end" textLength="6.2" lengthAdjust="spacingAndGlyphs">0.4</text><text x="102.5" y="325.7" text-anchor="middle" textLength="6.2" lengthAdjust="spacingAndGlyphs">0.6</text><text x="18.5" y="240.66" text-anchor="end" textLength="6.2" lengthAdjust="spacingAndGlyphs">0.6</text><text x="129.5" y="325.7" text-anchor="middle" textLength="6.2" lengthAdjust="spacingAndGlyphs">0.8</text><text x="18.5" y="213.88" text-anchor="end" textLength="6.2" lengthAdjust="spacingAndGlyphs">0.8</text><text x="156.5" y="325.7" text-anchor="middle" textLength="6.2" lengthAdjust="spacingAndGlyphs">1.0</text><text x="18.5" y="187.1" text-anchor="end" textLength="6.2" lengthAdjust="spacingAndGlyphs">1.0</text></g>
<text x="89" y="182.95" text-anchor="middle" font-size="5.6" textLength="53.74" lengthAdjust="spacingAndGlyphs">Validation ROC of KNN</text>
<text x="88.9" y="330.9" text-anchor="middle" font-size="4.65" textLength="37.8" lengthAdjust="spacingAndGlyphs">False Positive Rate</text>
<text transform="translate(9.8,252.45) rotate(-90)" text-anchor="middle" font-size="4.65" textLength="35.8" lengthAdjust="spacingAndGlyphs">True Positive Rate</text>
<text x="119.7" y="315" font-size="4.7" textLength="33.3" lengthAdjust="spacingAndGlyphs">Val AUC = 0.645</text>
<g font-size="4.75"><text x="196.5" y="325.7" text-anchor="middle" textLength="6.2" lengthAdjust="spacingAndGlyphs">0.0</text><text x="193.5" y="321" text-anchor="end" textLength="6.2" lengthAdjust="spacingAndGlyphs">0.0</text><text x="223.5" y="325.7" text-anchor="middle" textLength="6.2" lengthAdjust="spacingAndGlyphs">0.2</text><text x="193.5" y="294.22" text-anchor="end" textLength="6.2" lengthAdjust="spacingAndGlyphs">0.2</text><text x="250.5" y="325.7" text-anchor="middle" textLength="6.2" lengthAdjust="spacingAndGlyphs">0.4</text><text x="193.5" y="267.44" text-anchor="end" textLength="6.2" lengthAdjust="spacingAndGlyphs">0.4</text><text x="277.5" y="325.7" text-anchor="middle" textLength="6.2" lengthAdjust="spacingAndGlyphs">0.6</text><text x="193.5" y="240.66" text-anchor="end" textLength="6.2" lengthAdjust="spacingAndGlyphs">0.6</text><text x="304.5" y="325.7" text-anchor="middle" textLength="6.2" lengthAdjust="spacingAndGlyphs">0.8</text><text x="193.5" y="213.88" text-anchor="end" textLength="6.2" lengthAdjust="spacingAndGlyphs">0.8</text><text x="331.5" y="325.7" text-anchor="middle" textLength="6.2" lengthAdjust="spacingAndGlyphs">1.0</text><text x="193.5" y="187.1" text-anchor="end" textLength="6.2" lengthAdjust="spacingAndGlyphs">1.0</text></g>
<text x="264" y="182.95" text-anchor="middle" font-size="5.6" textLength="76.04" lengthAdjust="spacingAndGlyphs">Validation ROC of Decision Tree</text>
<text x="263.9" y="330.9" text-anchor="middle" font-size="4.65" textLength="37.8" lengthAdjust="spacingAndGlyphs">False Positive Rate</text>
<text transform="translate(184.8,252.45) rotate(-90)" text-anchor="middle" font-size="4.65" textLength="35.8" lengthAdjust="spacingAndGlyphs">True Positive Rate</text>
<text x="294.7" y="315" font-size="4.7" textLength="33.3" lengthAdjust="spacingAndGlyphs">Val AUC = 0.753</text>
<g font-size="4.75"><text x="372.2" y="325.7" text-anchor="middle" textLength="6.2" lengthAdjust="spacingAndGlyphs">0.0</text><text x="369.2" y="321" text-anchor="end" textLength="6.2" lengthAdjust="spacingAndGlyphs">0.0</text><text x="399.24" y="325.7" text-anchor="middle" textLength="6.2" lengthAdjust="spacingAndGlyphs">0.2</text><text x="369.2" y="294.22" text-anchor="end" textLength="6.2" lengthAdjust="spacingAndGlyphs">0.2</text><text x="426.28" y="325.7" text-anchor="middle" textLength="6.2" lengthAdjust="spacingAndGlyphs">0.4</text><text x="369.2" y="267.44" text-anchor="end" textLength="6.2" lengthAdjust="spacingAndGlyphs">0.4</text><text x="453.32" y="325.7" text-anchor="middle" textLength="6.2" lengthAdjust="spacingAndGlyphs">0.6</text><text x="369.2" y="240.66" text-anchor="end" textLength="6.2" lengthAdjust="spacingAndGlyphs">0.6</text><text x="480.36" y="325.7" text-anchor="middle" textLength="6.2" lengthAdjust="spacingAndGlyphs">0.8</text><text x="369.2" y="213.88" text-anchor="end" textLength="6.2" lengthAdjust="spacingAndGlyphs">0.8</text><text x="507.4" y="325.7" text-anchor="middle" textLength="6.2" lengthAdjust="spacingAndGlyphs">1.0</text><text x="369.2" y="187.1" text-anchor="end" textLength="6.2" lengthAdjust="spacingAndGlyphs">1.0</text></g>
<text x="439.8" y="182.95" text-anchor="middle" font-size="5.6" textLength="49.44" lengthAdjust="spacingAndGlyphs">Validation ROC of LR</text>
<text x="439.7" y="330.9" text-anchor="middle" font-size="4.65" textLength="37.8" lengthAdjust="spacingAndGlyphs">False Positive Rate</text>
<text transform="translate(360.5,252.45) rotate(-90)" text-anchor="middle" font-size="4.65" textLength="35.8" lengthAdjust="spacingAndGlyphs">True Positive Rate</text>
<text x="470.6" y="315" font-size="4.7" textLength="33.3" lengthAdjust="spacingAndGlyphs">Val AUC = 0.687</text></g>
<g><text x="0.95" y="9.6" font-family="Liberation Serif, serif" font-size="11.6" fill="#111">A</text>
<text x="176.75" y="8.55" font-family="Liberation Serif, serif" font-size="11.5" fill="#111">B</text>
<text x="352.6" y="8.65" font-family="Liberation Serif, serif" font-size="12.7" fill="#111">C</text>
<text x="526.5" y="8.6" font-family="Liberation Serif, serif" font-size="12.9" fill="#111">D</text>
<text x="1.7" y="184.1" font-family="Liberation Serif, serif" font-size="12.8" fill="#111">E</text>
<text x="177.6" y="183.55" font-family="Liberation Serif, serif" font-size="13.0" fill="#111">F</text>
<text x="352.45" y="183.7" font-family="Liberation Serif, serif" font-size="13.0" fill="#111">G</text></g></svg>
</body></html>
